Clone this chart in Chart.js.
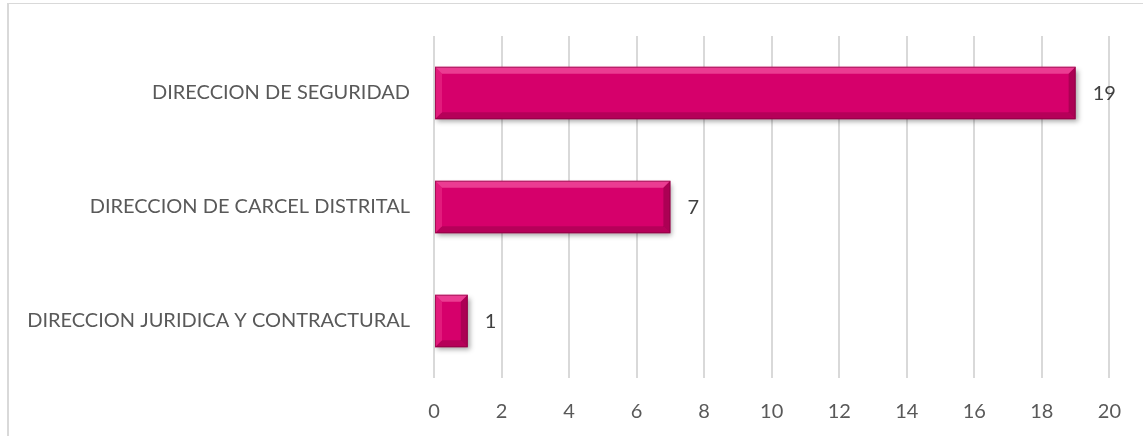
<!DOCTYPE html>
<html>
<head>
<meta charset="utf-8">
<script src="https://cdn.jsdelivr.net/npm/chart.js@4"></script>
<style>
  html, body { margin: 0; padding: 0; background: #fff; }
  #wrap { position: relative; width: 1143px; height: 436px; overflow: hidden; }
  #frame { position: absolute; left: 7px; top: 3px; width: 1200px; height: 500px;
           border-left: 2px solid #d9d9d9; border-top: 1px solid #d9d9d9; }
  canvas { position: absolute; left: 0; top: 0; }
</style>
</head>
<body>
<div id="wrap">
  <div id="frame"></div>
  <canvas id="barChart" width="1143" height="436"></canvas>
</div>
<script>
const categories = [
  "DIRECCION DE SEGURIDAD",
  "DIRECCION DE CARCEL DISTRITAL",
  "DIRECCION JURIDICA Y CONTRACTURAL"
];
const counts = [19, 7, 1];
const tickValues = [0, 2, 4, 6, 8, 10, 12, 14, 16, 18, 20];

const barColor = "#d6006b";
const fontFamily = "Lato, 'Open Sans', sans-serif";

// bisel de las barras + etiqueta de valor
const bevelPlugin = {
  id: "bevel",
  afterDatasetsDraw(chart) {
    const ctx = chart.ctx;
    const meta = chart.getDatasetMeta(0);
    meta.data.forEach((bar, i) => {
      const left = bar.base, right = bar.x;
      const top = bar.y - bar.height / 2, bottom = bar.y + bar.height / 2;
      const b = Math.min(7, (right - left) / 2);
      ctx.save();
      // borde superior claro
      ctx.fillStyle = "rgba(255,120,185,0.5)";
      ctx.beginPath();
      ctx.moveTo(left, top); ctx.lineTo(right, top);
      ctx.lineTo(right - b, top + b); ctx.lineTo(left + b, top + b);
      ctx.closePath(); ctx.fill();
      // borde izquierdo
      ctx.fillStyle = "rgba(255,90,165,0.3)";
      ctx.beginPath();
      ctx.moveTo(left, top); ctx.lineTo(left + b, top + b);
      ctx.lineTo(left + b, bottom - b); ctx.lineTo(left, bottom);
      ctx.closePath(); ctx.fill();
      // borde inferior oscuro
      ctx.fillStyle = "rgba(110,0,50,0.3)";
      ctx.beginPath();
      ctx.moveTo(left, bottom); ctx.lineTo(right, bottom);
      ctx.lineTo(right - b, bottom - b); ctx.lineTo(left + b, bottom - b);
      ctx.closePath(); ctx.fill();
      // borde derecho
      ctx.fillStyle = "rgba(110,0,50,0.4)";
      ctx.beginPath();
      ctx.moveTo(right, top); ctx.lineTo(right, bottom);
      ctx.lineTo(right - b, bottom - b); ctx.lineTo(right - b, top + b);
      ctx.closePath(); ctx.fill();
      // contorno
      ctx.strokeStyle = "rgba(120,0,55,0.55)";
      ctx.lineWidth = 1;
      ctx.strokeRect(left + 0.5, top + 0.5, right - left - 1, bottom - top - 1);
      // etiqueta de valor
      ctx.fillStyle = "#404040";
      ctx.font = "20px " + fontFamily;
      ctx.textAlign = "left";
      ctx.textBaseline = "middle";
      ctx.fillText(String(counts[i]), right + 17, bar.y + 1);
      ctx.restore();
    });
  }
};

const shadowPlugin = {
  id: "barShadow",
  beforeDatasetsDraw(chart) {
    const ctx = chart.ctx;
    ctx.save();
    ctx.shadowColor = "rgba(0,0,0,0.35)";
    ctx.shadowBlur = 5;
    ctx.shadowOffsetX = 2;
    ctx.shadowOffsetY = 3;
  },
  afterDatasetsDraw(chart) {
    chart.ctx.restore();
  }
};

new Chart(document.getElementById("barChart"), {
  type: "bar",
  data: {
    labels: categories,
    datasets: [{
      data: counts,
      backgroundColor: barColor,
      borderWidth: 0,
      categoryPercentage: 1,
      barPercentage: 0.46
    }]
  },
  options: {
    indexAxis: "y",
    responsive: false,
    animation: false,
    layout: { padding: { top: 32, right: 33, bottom: 0, left: 0 } },
    plugins: { legend: { display: false }, tooltip: { enabled: false } },
    scales: {
      x: {
        min: 0,
        max: 20,
        afterBuildTicks(scale) { scale.ticks = tickValues.map(v => ({ value: v })); },
        afterFit(scale) { scale.height = 58; },
        border: { display: false },
        grid: { color: "#d9d9d9", lineWidth: 2, drawTicks: false },
        ticks: { color: "#595959", font: { family: fontFamily, size: 20 }, padding: 22 }
      },
      y: {
        afterFit(scale) { scale.width = 434; },
        border: { display: false },
        grid: { display: false, drawTicks: false },
        ticks: { color: "#595959", font: { family: fontFamily, size: 20 }, padding: 24 }
      }
    }
  },
  plugins: [shadowPlugin, bevelPlugin]
});
</script>
</body>
</html>
